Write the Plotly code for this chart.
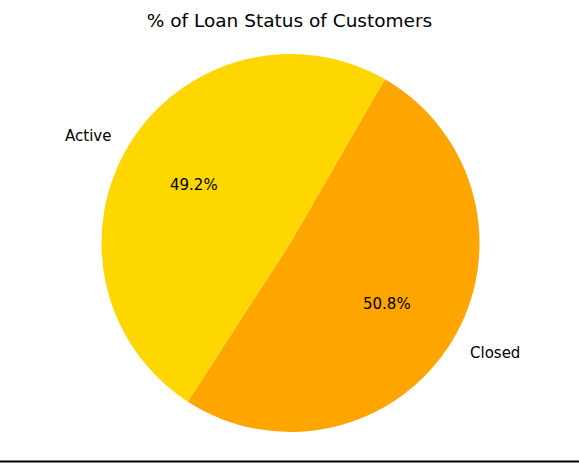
import math
import plotly.graph_objects as go

labels = ["Active", "Closed"]
values = [49.2, 50.8]
colors = ["#FFD700", "#FFA500"]
title_text = "% of Loan Status of Customers"

W, H = 579, 463
cx, cy, R = 290.5, 243.0, 189.0
start_angle = 60.0  # degrees, math convention, counterclockwise
text_dy = 1.5  # small vertical nudge of text (px, downward)

total = sum(values)
first_span = 360 * values[0] / total
rot = 90 - start_angle - first_span
while rot < -180:
    rot += 360

fig = go.Figure()
fig.add_trace(go.Pie(
    labels=labels, values=values, sort=False, direction="counterclockwise",
    rotation=rot,
    marker=dict(colors=colors, line=dict(width=0)),
    textinfo="none", hoverinfo="label+percent", showlegend=False,
    domain=dict(x=[(cx - R) / W, (cx + R) / W], y=[1 - (cy + R) / H, 1 - (cy - R) / H]),
))

ann = []
ang = start_angle
font = dict(family="DejaVu Sans", size=15, color="black")
for lab, v in zip(labels, values):
    span = 360 * v / total
    mid = math.radians(ang + span / 2)
    ang += span
    c, s = math.cos(mid), math.sin(mid)
    lx, ly = cx + 1.1 * R * c, cy - 1.1 * R * s + text_dy
    ann.append(dict(x=lx / W, y=1 - ly / H, xref="paper", yref="paper", text=lab,
                    showarrow=False, xanchor="right" if c < 0 else "left", yanchor="middle",
                    font=font))
    px, py = cx + 0.6 * R * c, cy - 0.6 * R * s + text_dy
    ann.append(dict(x=px / W, y=1 - py / H, xref="paper", yref="paper",
                    text=f"{100 * v / total:.1f}%", showarrow=False,
                    xanchor="center", yanchor="middle", font=font))

fig.update_layout(
    width=W, height=H, margin=dict(l=0, r=0, t=0, b=0),
    paper_bgcolor="white", plot_bgcolor="white",
    title=dict(text=title_text, x=0.5, xanchor="center", y=1 - 21 / H, yanchor="middle",
               font=dict(family="DejaVu Sans", size=18.5, color="black")),
    annotations=ann,
    shapes=[dict(type="line", xref="paper", yref="paper", x0=0, x1=1,
                 y0=1 - 461.5 / H, y1=1 - 461.5 / H, line=dict(color="black", width=2))],
)
fig.write_html("out.html", config={"displayModeBar": False},
               post_script="document.body.style.margin='0';document.body.style.overflow='hidden';")
